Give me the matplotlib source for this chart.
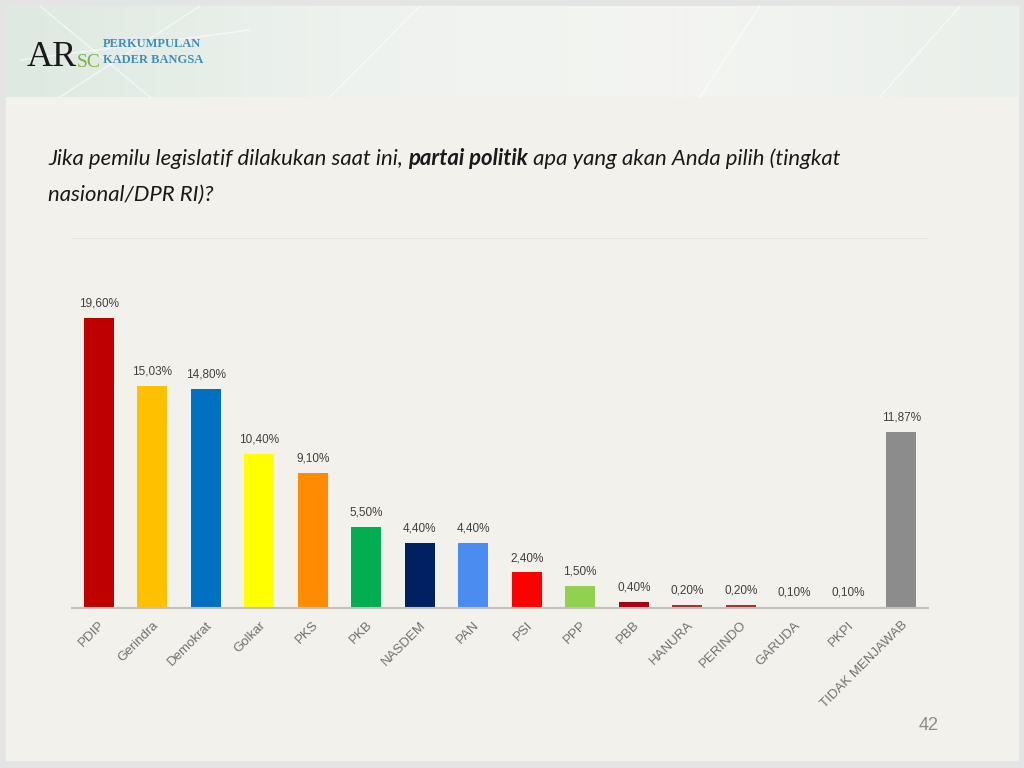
import numpy as np
import matplotlib.pyplot as plt
from matplotlib.patches import Rectangle

# ==== data ====
parties = ['PDIP', 'Gerindra', 'Demokrat', 'Golkar', 'PKS', 'PKB', 'NASDEM', 'PAN',
           'PSI', 'PPP', 'PBB', 'HANURA', 'PERINDO', 'GARUDA', 'PKPI', 'TIDAK MENJAWAB']
values = [19.60, 15.03, 14.80, 10.40, 9.10, 5.50, 4.40, 4.40,
          2.40, 1.50, 0.40, 0.20, 0.20, 0.10, 0.10, 11.87]
labels = ['19,60%', '15,03%', '14,80%', '10,40%', '9,10%', '5,50%', '4,40%', '4,40%',
          '2,40%', '1,50%', '0,40%', '0,20%', '0,20%', '0,10%', '0,10%', '11,87%']
colors = ['#c00000', '#ffc000', '#0070c0', '#ffff00', '#ff8c00', '#00b050', '#002060', '#4a8cf0',
          '#ff0000', '#92d050', '#b00010', '#b8282c', '#b8282c', '#e2c4c4', '#e2c4c4', '#8c8c8c']

W, H = 1024, 768
fig = plt.figure(figsize=(W / 100, H / 100), dpi=100)
fig.patch.set_facecolor('#e4e4e4')

# ==== slide background + header ====
bg = fig.add_axes([0, 0, 1, 1])
bg.set_xlim(0, W)
bg.set_ylim(H, 0)
bg.axis('off')
bg.add_patch(Rectangle((6, 6), W - 12, H - 14, color='#f2f1ec', zorder=0))
grad = np.linspace(0, 1, 256).reshape(1, -1)
bg.imshow(grad, extent=(6, W - 6, 97, 6), cmap=plt.matplotlib.colors.LinearSegmentedColormap.from_list(
    'hdr', ['#dde9e1', '#eef2ee', '#f4f5f2', '#e9efea']), aspect='auto', zorder=1)
for x0, y0, x1, y1 in [(60, 97, 200, 6), (150, 97, 40, 6), (330, 97, 420, 6), (700, 97, 760, 6),
                       (880, 97, 960, 6), (20, 60, 250, 30)]:
    bg.plot([x0, x1], [y0, y1], color='white', lw=1, alpha=0.6, zorder=2)
bg.text(27, 66, 'AR', fontsize=26, family='Liberation Serif', color='#1a1a1a', zorder=3)
bg.text(77, 67, 'SC', fontsize=14, family='Liberation Serif', color='#7cb342', zorder=3)
bg.text(103, 47, 'PERKUMPULAN', fontsize=9, family='Liberation Serif', weight='bold',
        color='#3b8fc0', zorder=3)
bg.text(103, 63, 'KADER BANGSA', fontsize=9, family='Liberation Serif', weight='bold',
        color='#3b8fc0', zorder=3)
bg.text(939, 730, '42', fontsize=13, color='#8c8c8c', ha='right', family='Liberation Sans')

# ==== title with bold part ====
parts = [('Jika pemilu legislatif dilakukan saat ini, ', 'normal'),
         ('partai politik', 'bold'),
         (' apa yang akan Anda pilih (tingkat', 'normal')]
fig.canvas.draw()
r = fig.canvas.get_renderer()
fs = 17
tfont = dict(family='Lato', style='italic', color='#1a1a1a')
# shrink size so the first line spans the same width as in the slide
tot = 0
for s, wgt in parts:
    t = bg.text(0, 0, s, weight=wgt, fontsize=fs, **tfont)
    tot += t.get_window_extent(r).width
    t.remove()
fs = fs * 794 / tot
x = 48
for s, wgt in parts:
    t = bg.text(x, 165, s, weight=wgt, fontsize=fs, **tfont)
    x += t.get_window_extent(r).width
bg.text(48, 201, 'nasional/DPR RI)?', fontsize=fs, **tfont)

# ==== chart ====
ax = fig.add_axes([72 / W, (H - 608) / H, 856 / W, 370 / H])
ax.set_facecolor('none')
xs = np.arange(len(parties))
ax.bar(xs, values, width=0.56, color=colors, zorder=2)
ax.set_xlim(-0.5, len(parties) - 0.5)
ax.set_ylim(0, 25)
for xi, v, lab in zip(xs, values, labels):
    ax.annotate(lab, (xi, v), xytext=(0, 6), textcoords='offset points', ha='center',
                va='bottom', fontsize=8.5, color='#404040', family='Liberation Sans')
ax.axhline(25, color='#e6e6e0', lw=0.8)
for sp in ['top', 'right', 'left']:
    ax.spines[sp].set_visible(False)
ax.spines['bottom'].set_color('#c0c0c0')
ax.spines['bottom'].set_linewidth(1.5)
ax.set_yticks([])
ax.set_xticks(xs)
ax.set_xticklabels(parties, rotation=45, ha='right', va='top', rotation_mode='anchor',
                   fontsize=9.5, color='#707070', family='Liberation Sans')
ax.tick_params(axis='x', length=0, pad=8)

fig.savefig('out.png', dpi=100, facecolor=fig.get_facecolor())
